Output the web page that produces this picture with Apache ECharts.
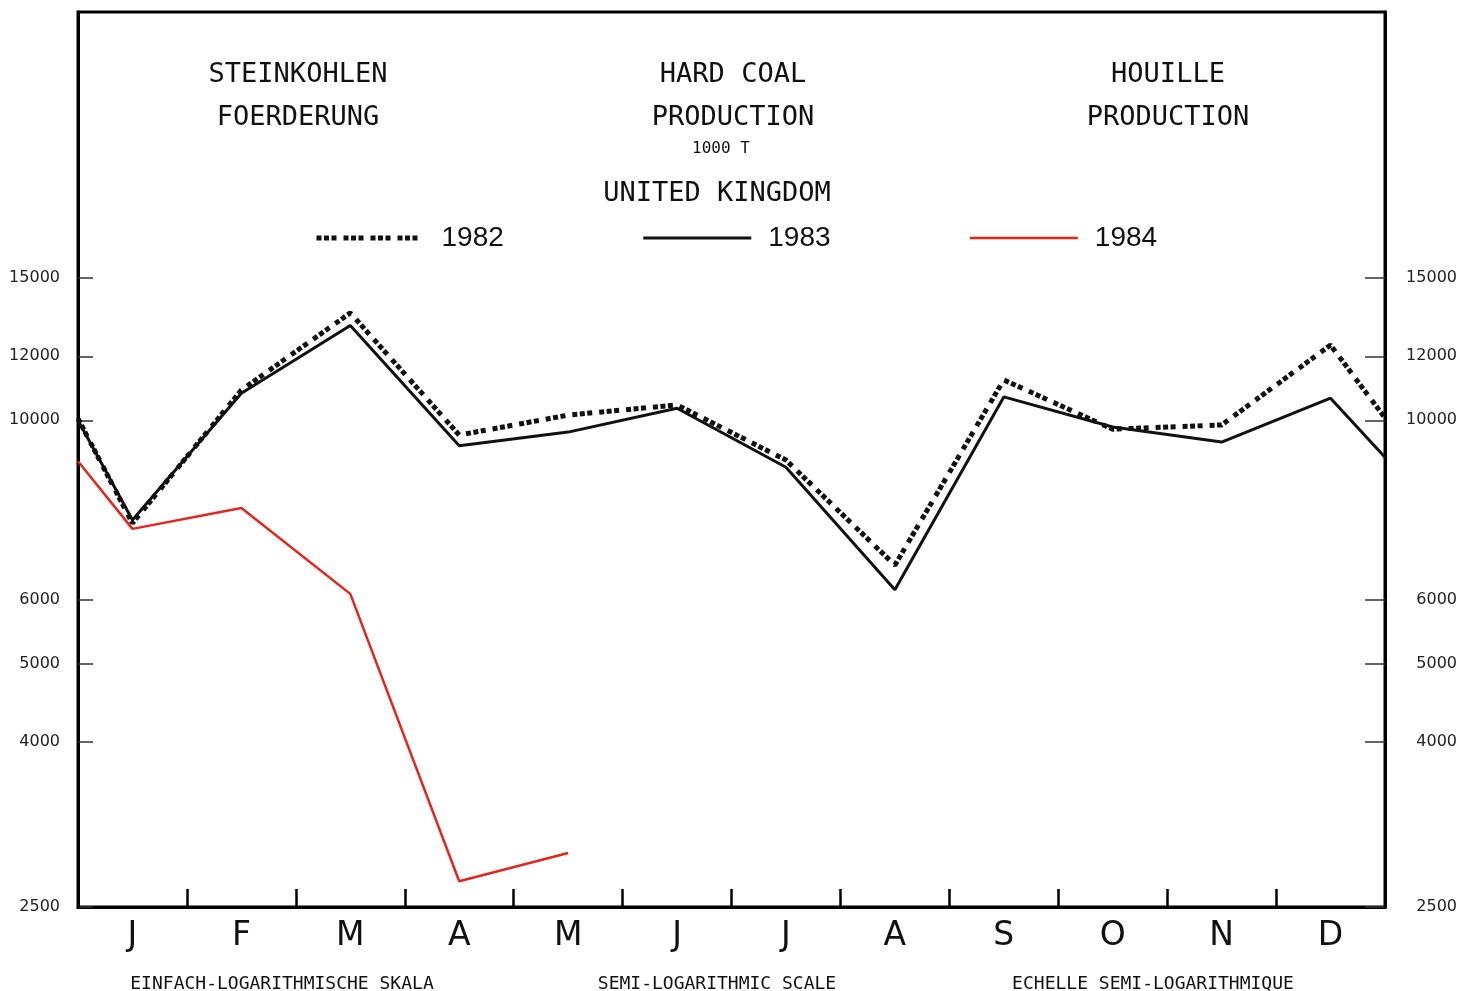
<!DOCTYPE html>
<html>
<head>
<meta charset="utf-8">
<script src="https://cdn.jsdelivr.net/npm/echarts@6/dist/echarts.min.js"></script>
<style>html,body{margin:0;padding:0;background:#fff}#c{width:1462px;height:991px}</style>
</head>
<body>
<div id="c"></div>
<script>
// Months (category labels)
const months = ['J','F','M','A','M','J','J','A','S','O','N','D'];
// Values in 1000 t; first entry = start at left edge (previous Dec), last entry = right edge (following Jan)
const y1982 = [10050, 7460, 10900, 13580, 9590, 10150, 10450, 8930, 6620, 11220, 9750, 9870, 12390, 10070];
const y1983 = [10000, 7530, 10800, 13100, 9300, 9670, 10350, 8750, 6170, 10690, 9810, 9400, 10650, 9000];
const y1984 = [8900, 7340, 7790, 6100, 2690, 2915];
const yTicks = [2500, 4000, 5000, 6000, 10000, 12000, 15000];
const seriesNames = ['1982', '1983', '1984'];

// position: index 0 -> half a month before J, then months 0..11, then half a month after D
function toPoints(arr) {
  return arr.map((v, i) => [i === 0 ? -0.5 : (i === 13 ? 11.5 : i - 1), v]);
}

const dots1982 = [5, 2.5, 5, 2.5, 5, 7];
const chart = echarts.init(document.getElementById('c'), null, {renderer: 'canvas'});
const monoFont = 'DejaVu Sans Mono';
const titleStyle = (t, x, y, size) => ({
  type: 'text', x: x, y: y,
  style: {text: t, textAlign: 'center', textVerticalAlign: 'middle', fontSize: size, fontFamily: monoFont, fill: '#111'}
});

const yAxisCommon = {
  type: 'log', min: 2500, max: 32000, logBase: 10,
  splitLine: {show: false},
  axisLine: {show: true, onZero: false, lineStyle: {color: '#000', width: 3}},
  minorTick: {show: false}
};

chart.setOption({
  animation: false,
  backgroundColor: '#fff',
  grid: {left: 78, right: 77, top: 12, bottom: 84, show: true, borderColor: '#000', borderWidth: 3, backgroundColor: 'transparent'},
  legend: {
    left: 309, top: 219, itemWidth: 108, itemHeight: 14, itemGap: 138,
    itemStyle: {opacity: 0},
    data: [
      {name: seriesNames[0], lineStyle: {width: 5, type: dots1982, color: '#111'}},
      {name: seriesNames[1], lineStyle: {width: 3, color: '#111'}},
      {name: seriesNames[2], lineStyle: {width: 2.5, color: '#e3261b'}}
    ],
    textStyle: {fontFamily: 'Liberation Sans', fontSize: 28, color: '#111', padding: [0, 0, 0, 12]}
  },
  xAxis: [
    {
      type: 'category', data: months, boundaryGap: true, position: 'bottom',
      axisLine: {show: true, onZero: false, lineStyle: {color: '#000', width: 3}},
      axisTick: {show: true, inside: true, length: 18, lineStyle: {color: '#000', width: 2.5}},
      axisLabel: {fontFamily: 'DejaVu Sans', fontSize: 33, color: '#111', margin: 13}
    },
    {type: 'value', min: -0.5, max: 11.5, show: false}
  ],
  yAxis: [
    Object.assign({}, yAxisCommon, {
      position: 'left',
      axisTick: {show: true, inside: true, length: 15, customValues: yTicks, lineStyle: {color: '#333', width: 1.5}},
      axisLabel: {customValues: yTicks, formatter: v => String(v), fontFamily: 'DejaVu Sans', fontSize: 16, color: '#222', margin: 18}
    }),
    Object.assign({}, yAxisCommon, {
      position: 'right',
      axisTick: {show: true, inside: true, length: 20, customValues: yTicks, lineStyle: {color: '#333', width: 1.5}},
      axisLabel: {customValues: yTicks, formatter: v => String(v), fontFamily: 'DejaVu Sans', fontSize: 16, color: '#222', margin: 72, align: 'right'}
    })
  ],
  series: [
    {
      name: seriesNames[0], type: 'line', xAxisIndex: 1, yAxisIndex: 0, symbol: 'none',
      data: toPoints(y1982),
      lineStyle: {color: '#111', width: 5, type: dots1982, cap: 'butt'},
      itemStyle: {color: '#111'}, z: 3
    },
    {
      name: seriesNames[1], type: 'line', xAxisIndex: 1, yAxisIndex: 0, symbol: 'none',
      data: toPoints(y1983),
      lineStyle: {color: '#111', width: 3},
      itemStyle: {color: '#111'}, z: 4
    },
    {
      name: seriesNames[2], type: 'line', xAxisIndex: 1, yAxisIndex: 0, symbol: 'none',
      data: y1984.map((v, i) => [i === 0 ? -0.5 : i - 1, v]),
      lineStyle: {color: '#e3261b', width: 2.5},
      itemStyle: {color: '#e3261b'}, z: 5
    }
  ],
  graphic: [
    titleStyle('STEINKOHLEN', 298, 75, 27),
    titleStyle('FOERDERUNG', 298, 118, 27),
    titleStyle('HARD COAL', 733, 75, 27),
    titleStyle('PRODUCTION', 733, 118, 27),
    titleStyle('1000 T', 721, 149, 16),
    titleStyle('UNITED KINGDOM', 717, 194, 27),
    titleStyle('HOUILLE', 1168, 75, 27),
    titleStyle('PRODUCTION', 1168, 118, 27),
    titleStyle('EINFACH-LOGARITHMISCHE SKALA', 282, 984, 18),
    titleStyle('SEMI-LOGARITHMIC SCALE', 717, 984, 18),
    titleStyle('ECHELLE SEMI-LOGARITHMIQUE', 1153, 984, 18)
  ]
});
</script>
</body>
</html>
